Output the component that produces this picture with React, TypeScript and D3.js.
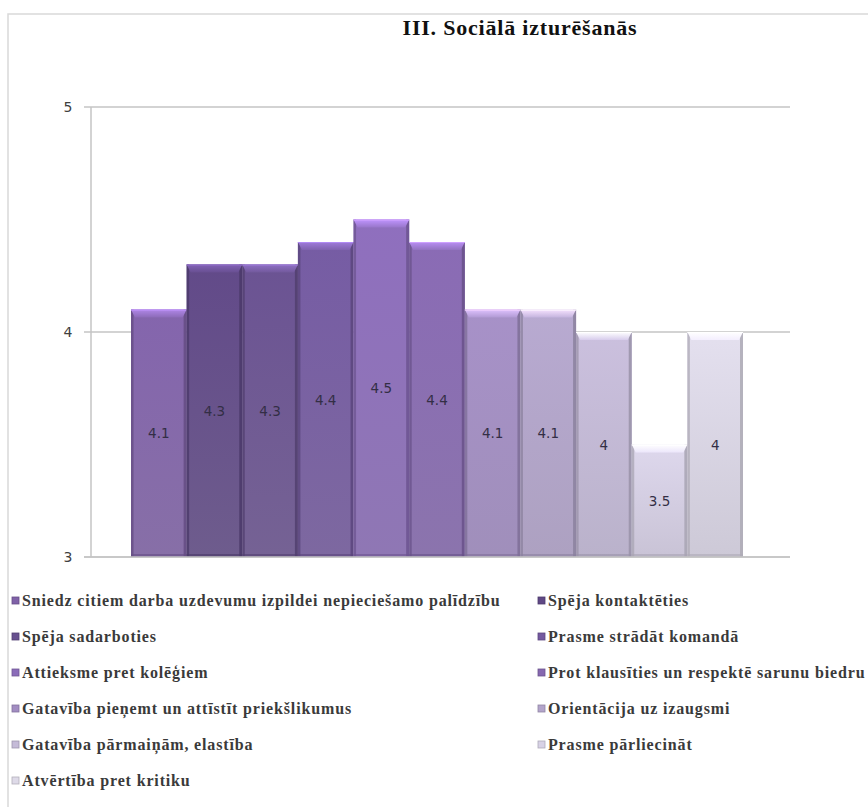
import React from "react";
import * as d3 from "d3";

const title = "III. Sociālā izturēšanās";
const categories = [
  "Sniedz citiem  darba uzdevumu izpildei nepieciešamo palīdzību",
  "Spēja kontaktēties",
  "Spēja sadarboties",
  "Prasme strādāt komandā",
  "Attieksme pret kolēģiem",
  "Prot klausīties un respektē sarunu biedru",
  "Gatavība pieņemt  un attīstīt priekšlikumus",
  "Orientācija uz izaugsmi",
  "Gatavība pārmaiņām, elastība",
  "Prasme pārliecināt",
  "Atvērtība pret kritiku",
];
const values = [4.1, 4.3, 4.3, 4.4, 4.5, 4.4, 4.1, 4.1, 4, 3.5, 4];
const labels = ["4.1", "4.3", "4.3", "4.4", "4.5", "4.4", "4.1", "4.1", "4", "3.5", "4"];
const colors = [
  "#8062a8", "#5f4885", "#68518f", "#73599f", "#8b6cb9", "#8668b0",
  "#a28dc2", "#b3a5cb", "#c5bbd8", "#d8d2e6", "#dedae8",
];
const yTicks = [3, 4, 5];

const W = 868;
const H = 807;

export default function App() {
  const y = d3.scaleLinear().domain([3, 5]).range([557, 107]);
  const x = d3.scaleBand<string>().domain(categories).range([131, 743]).padding(0);
  const bw = x.bandwidth();
  const legendRows = Math.ceil(categories.length / 2);
  const legendY = d3.scaleLinear().domain([0, legendRows - 1]).range([601, 781]);
  const legendX = [12, 538];

  return (
    <svg width={W} height={H} style={{ position: "absolute", left: 0, top: 0 }}>
      <defs>
        {colors.map((c, i) => {
          const cc = d3.color(c)!;
          return (
            <linearGradient key={i} id={`g${i}`} x1="0" y1="0" x2="0" y2="1">
              <stop offset="0" stopColor={cc.brighter(0.08).formatHex()} />
              <stop offset="1" stopColor={d3.interpolateRgb(c, "#9a96a4")(0.25)} />
            </linearGradient>
          );
        })}
        {colors.map((c, i) => {
          const cc = d3.color(c)!;
          return (
            <linearGradient key={"h" + i} id={`h${i}`} x1="0" y1="0" x2="0" y2="1">
              <stop offset="0" stopColor={cc.brighter(0.9).formatHex()} />
              <stop offset="1" stopColor={cc.brighter(0.25).formatHex()} />
            </linearGradient>
          );
        })}
      </defs>
      <rect x={0} y={0} width={W} height={H} fill="#ffffff" />
      <rect x={8} y={14} width={W + 10} height={H + 10} fill="none" stroke="#d9d9d9" strokeWidth={1.5} />

      <text x={520} y={35} textAnchor="middle" fontFamily="'Liberation Serif', serif" fontWeight="bold" fontSize={22} fill="#111" letterSpacing={0.8}>
        {title}
      </text>

      {yTicks.map((t) => (
        <g key={t}>
          <line x1={84} x2={790} y1={y(t)} y2={y(t)} stroke="#c4c4c4" strokeWidth={1.5} />
          <text x={68} y={y(t) + 5} textAnchor="middle" fontFamily="'DejaVu Sans', sans-serif" fontSize={14} fill="#404040">
            {t}
          </text>
        </g>
      ))}
      <line x1={91} x2={91} y1={y(5)} y2={y(3)} stroke="#c4c4c4" strokeWidth={1.5} />

      {values.map((v, i) => {
        const x0 = x(categories[i])!;
        const y0 = y(v);
        const y1 = y(3);
        const c = d3.color(colors[i])!;
        const edge = c.darker(0.7).formatHex();
        const bev = 8;
        return (
          <g key={i}>
            <rect x={x0} y={y0} width={bw} height={y1 - y0} fill={`url(#g${i})`} />
            <rect x={x0} y={y0} width={2.5} height={y1 - y0} fill={edge} opacity={0.75} />
            <rect x={x0 + bw - 3} y={y0} width={3} height={y1 - y0} fill={edge} opacity={0.85} />
            <polygon
              points={`${x0},${y0} ${x0 + bw},${y0} ${x0 + bw - 4},${y0 + bev} ${x0 + 4},${y0 + bev}`}
              fill={`url(#h${i})`}
            />
            <line x1={x0} x2={x0 + bw} y1={y0 + 0.5} y2={y0 + 0.5} stroke={c.brighter(1.2).formatHex()} strokeWidth={1} />
            <rect x={x0} y={y1 - 3} width={bw} height={3} fill={edge} opacity={0.6} />
            <text
              x={x0 + bw / 2}
              y={(y0 + y1) / 2 + 5}
              textAnchor="middle"
              fontFamily="'DejaVu Sans', sans-serif"
              fontSize={13.5}
              fill="#332e45"
            >
              {labels[i]}
            </text>
          </g>
        );
      })}
      <line x1={84} x2={790} y1={y(3)} y2={y(3)} stroke="#c4c4c4" strokeWidth={1.5} />

      {categories.map((name, i) => {
        const col = i % 2;
        const row = Math.floor(i / 2);
        const lx = legendX[col];
        const ly = legendY(row);
        return (
          <g key={name}>
            <rect x={lx} y={ly - 4} width={7} height={7} fill={colors[i]} stroke={d3.color(colors[i])!.darker(0.6).formatHex()} strokeWidth={0.8} />
            <text
              x={lx + 10}
              y={ly + 5}
              fontFamily="'Liberation Serif', 'Times New Roman', serif"
              fontWeight="bold"
              fontSize={16}
              letterSpacing={0.85}
              fill="#3a3a3a"
            >
              {name}
            </text>
          </g>
        );
      })}
    </svg>
  );
}
